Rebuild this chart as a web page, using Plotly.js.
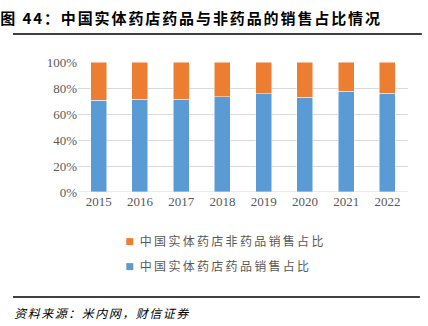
<!DOCTYPE html>
<html><head><meta charset="utf-8">
<script src="https://cdn.plot.ly/plotly-3.0.1.min.js"></script>
<style>html,body{margin:0;padding:0;background:#fff}#c{width:428px;height:326px}</style>
</head><body><div id="c"></div>
<script>
const years = ['2015','2016','2017','2018','2019','2020','2021','2022'];
const drugShare = [70.5, 71.5, 71.5, 73.3, 75.4, 72.8, 77.4, 76.1];
const nonDrugShare = [29.5, 28.5, 28.5, 26.7, 24.6, 27.2, 22.6, 23.9];
const yTicks = [0, 20, 40, 60, 80, 100];
const yTickText = ['0%', '20%', '40%', '60%', '80%', '100%'];
const nameDrug = '中国实体药店药品销售占比';
const nameNonDrug = '中国实体药店非药品销售占比';

const serif = 'Liberation Serif, Times New Roman, serif';
const cjk = 'Noto Sans CJK SC, sans-serif';

const traces = [
  {type:'bar', x:years, y:drugShare, name:nameDrug, legendgroup:'a', legendrank:2, marker:{color:'#5B9BD5', line:{color:'#ffffff', width:0.5}}, hoverinfo:'none'},
  {type:'bar', x:years, y:nonDrugShare, name:nameNonDrug, legendgroup:'b', legendrank:1, marker:{color:'#ED7D31', line:{color:'#ffffff', width:0.5}}, hoverinfo:'none'}
];

const layout = {
  width:428, height:326,
  margin:{l:78, r:20, t:62, b:134, pad:0},
  barmode:'stack', bargap:0.61,
  paper_bgcolor:'#fff', plot_bgcolor:'#fff',
  showlegend:true,
  legend:{orientation:'v', x:0.066, xanchor:'left', y:-0.27, yanchor:'top', traceorder:'grouped',
    font:{family:cjk, size:12, color:'#595959'}, tracegroupgap:6, bgcolor:'rgba(0,0,0,0)'},
  xaxis:{type:'category', showgrid:false, zeroline:false, showline:false, ticks:'',
    tickfont:{family:serif, size:13, color:'#595959'}},
  yaxis:{range:[0,100], tickvals:yTicks, ticktext:yTickText, showgrid:true, gridcolor:'#D9D9D9', gridwidth:1,
    zeroline:false, showline:false, ticks:'', ticklen:0,
    tickfont:{family:serif, size:13, color:'#595959'}},
  shapes:[
    {type:'line', xref:'paper', yref:'paper', x0:-0.197, x1:1.042, y0:1.215, y1:1.215, line:{color:'#404040', width:2}},
    {type:'line', xref:'paper', yref:'paper', x0:-0.197, x1:1.036, y0:-0.808, y1:-0.808, line:{color:'#000000', width:1.5}},
    {type:'line', xref:'paper', yref:'y', x0:0, x1:1, y0:0, y1:0, line:{color:'#D9D9D9', width:1}}
  ],
  annotations:[
    {xref:'paper', yref:'paper', x:-0.172, y:1.346, xanchor:'left', yanchor:'middle', showarrow:false,
      text:'<b>图 44：中国实体药店药品与非药品的销售占比情况</b>', font:{family:cjk, size:15, color:'#000'}},
    {xref:'paper', yref:'paper', x:-0.17, y:-0.925, xanchor:'left', yanchor:'middle', showarrow:false,
      text:'<i>资料来源：米内网，财信证券</i>', font:{family:cjk, size:12, color:'#000'}}
  ]
};
Plotly.newPlot('c', traces, layout, {displayModeBar:false, staticPlot:true}).then(function(){
  document.querySelectorAll('.legend [clip-path]').forEach(function(e){ e.removeAttribute('clip-path'); });
  document.querySelectorAll('.legendtext').forEach(function(t){ t.setAttribute('letter-spacing','2.3'); });
  document.querySelectorAll('.legend .legendpoints path').forEach(function(p){
    p.setAttribute('d','M3.5,3.5H-3.5V-3.5H3.5Z');
    p.style.strokeWidth = '0';
    var tr = p.getAttribute('transform') || '';
    p.setAttribute('transform', tr + ' translate(10,0)');
  });
  var ann = document.querySelectorAll('.annotation-text');
  if (ann[0]) ann[0].setAttribute('letter-spacing','1.9');
  if (ann[1]) ann[1].setAttribute('letter-spacing','1.5');
});
</script></body></html>
